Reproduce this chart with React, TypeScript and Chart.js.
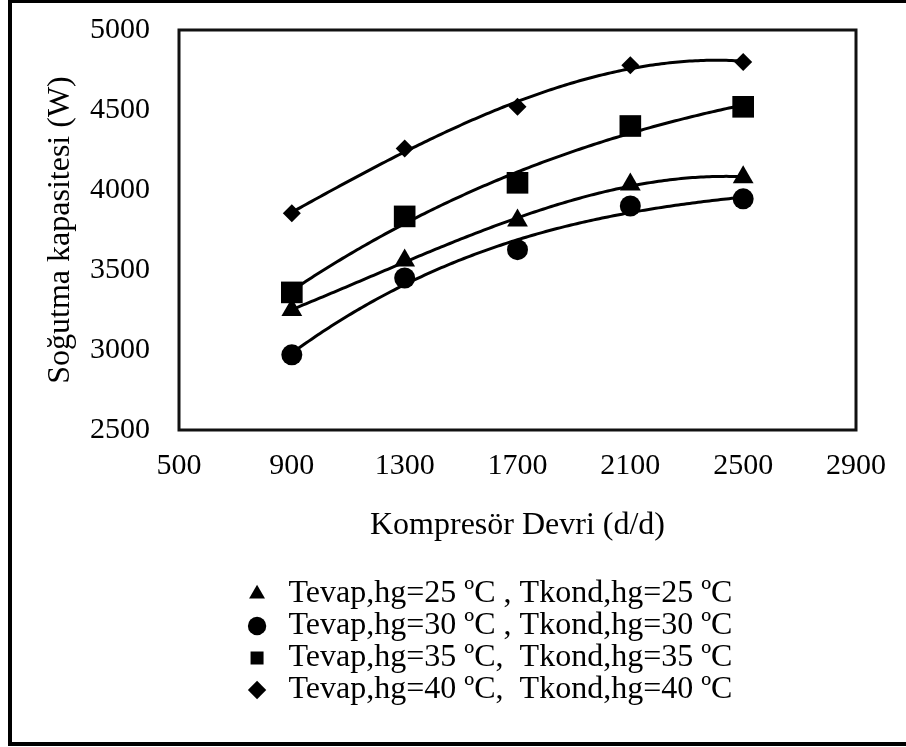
import React, { useEffect, useRef } from "react";
import { Chart, registerables } from "chart.js";

Chart.register(...registerables);

// ---- Data ----
const rpm = [900, 1300, 1700, 2100, 2500];
const cap25 = [3250, 3560, 3810, 4035, 4080];
const cap30 = [2970, 3450, 3627, 3900, 3945];
const cap35 = [3360, 3835, 4045, 4400, 4520];
const cap40 = [3855, 4260, 4520, 4780, 4800];

const seriesLabels = [
  "Tevap,hg=25 ºC , Tkond,hg=25 ºC",
  "Tevap,hg=30 ºC , Tkond,hg=30 ºC",
  "Tevap,hg=35 ºC,  Tkond,hg=35 ºC",
  "Tevap,hg=40 ºC,  Tkond,hg=40 ºC",
];
const seriesValues = [cap25, cap30, cap35, cap40];
const seriesMarkers = ["triangle", "circle", "rect", "rectRot"];
const markerRadius = [12, 10.5, 15.3, 9];

const xMin = 500;
const xMax = 2900;
const xStep = 400;
const yMin = 2500;
const yMax = 5000;
const yStep = 500;

const xTitle = "Kompresör Devri (d/d)";
const yTitle = "Soğutma kapasitesi (W)";

const FONT = "'Liberation Serif', 'Times New Roman', serif";

// least squares polynomial fit (Excel-style trendline)
function polyFit(xs: number[], ys: number[], deg: number) {
  const n = deg + 1;
  const c = xs.reduce((a, b) => a + b, 0) / xs.length;
  const s = (Math.max(...xs) - Math.min(...xs)) / 2 || 1;
  const A: number[][] = Array.from({ length: n }, () => new Array(n + 1).fill(0));
  xs.forEach((xv, k) => {
    const u = (xv - c) / s;
    for (let i = 0; i < n; i++) {
      for (let j = 0; j < n; j++) A[i][j] += Math.pow(u, i + j);
      A[i][n] += ys[k] * Math.pow(u, i);
    }
  });
  for (let i = 0; i < n; i++) {
    let p = i;
    for (let r = i + 1; r < n; r++) if (Math.abs(A[r][i]) > Math.abs(A[p][i])) p = r;
    [A[i], A[p]] = [A[p], A[i]];
    for (let r = 0; r < n; r++) {
      if (r === i) continue;
      const f = A[r][i] / A[i][i];
      for (let col = i; col <= n; col++) A[r][col] -= f * A[i][col];
    }
  }
  const coef = A.map((row, i) => row[n] / row[i]);
  return (xv: number) => {
    const u = (xv - c) / s;
    let v = 0;
    for (let i = 0; i < n; i++) v += coef[i] * Math.pow(u, i);
    return v;
  };
}

const trendPlugin = {
  id: "trendlines",
  beforeDatasetsDraw(chart: any) {
    const { ctx, chartArea } = chart;
    const xs = chart.scales.x;
    const ys = chart.scales.y;
    ctx.save();
    ctx.beginPath();
    ctx.rect(chartArea.left, chartArea.top, chartArea.right - chartArea.left, chartArea.bottom - chartArea.top);
    ctx.clip();
    ctx.strokeStyle = "#000";
    ctx.lineWidth = 3;
    ctx.lineJoin = "round";
    ctx.lineCap = "round";
    chart.data.datasets.forEach((ds: any) => {
      const px = ds.data.map((p: any) => p.x);
      const py = ds.data.map((p: any) => p.y);
      const f = polyFit(px, py, 3);
      const x0 = Math.min(...px);
      const x1 = Math.max(...px);
      ctx.beginPath();
      const N = 160;
      for (let i = 0; i <= N; i++) {
        const xv = x0 + ((x1 - x0) * i) / N;
        const X = xs.getPixelForValue(xv);
        const Y = ys.getPixelForValue(f(xv));
        if (i === 0) ctx.moveTo(X, Y);
        else ctx.lineTo(X, Y);
      }
      ctx.stroke();
    });
    ctx.restore();
  },
};

const framePlugin = {
  id: "plotFrame",
  afterDraw(chart: any) {
    const { ctx, chartArea } = chart;
    ctx.save();
    ctx.strokeStyle = "#111";
    ctx.lineWidth = 3;
    ctx.strokeRect(chartArea.left, chartArea.top, chartArea.right - chartArea.left, chartArea.bottom - chartArea.top);
    ctx.restore();
  },
};

export default function App() {
  const ref = useRef<HTMLCanvasElement | null>(null);

  useEffect(() => {
    if (!ref.current) return;
    const datasets = seriesLabels.map((label, i) => ({
      label,
      data: rpm.map((x, k) => ({ x, y: seriesValues[i][k] })),
      showLine: false,
      pointStyle: seriesMarkers[i] as any,
      pointRadius: markerRadius[i],
      pointHoverRadius: markerRadius[i],
      pointBackgroundColor: "#000",
      pointBorderColor: "#000",
      pointBorderWidth: 0,
      backgroundColor: "#000",
      borderColor: "#000",
      borderWidth: 0,
    }));

    const chart = new Chart(ref.current, {
      type: "scatter",
      data: { datasets },
      plugins: [trendPlugin, framePlugin],
      options: {
        responsive: false,
        animation: false,
        devicePixelRatio: 1,
        layout: { padding: { left: 68, right: 0, top: 30, bottom: 31 } },
        plugins: {
          tooltip: { enabled: false },
          title: { display: false },
          legend: {
            display: true,
            position: "bottom",
            align: "center",
            labels: {
              usePointStyle: true,
              boxWidth: 31,
              boxHeight: 13,
              padding: 0,
              color: "#000",
              font: { family: FONT, size: 32 },
            },
          },
        },
        scales: {
          x: {
            type: "linear",
            min: xMin,
            max: xMax,
            grid: { display: false, drawTicks: false },
            border: { display: false },
            afterFit: (s: any) => {
              s.height = 148;
            },
            ticks: {
              stepSize: xStep,
              padding: 18.5,
              color: "#000",
              font: { family: FONT, size: 30 },
              maxRotation: 0,
              callback: (v: any) => String(v),
            },
            title: {
              display: true,
              text: xTitle,
              color: "#000",
              font: { family: FONT, size: 32 },
              padding: { top: 0, bottom: 33 },
            },
          },
          y: {
            type: "linear",
            position: "left",
            min: yMin,
            max: yMax,
            grid: { display: false, drawTicks: false },
            border: { display: false },
            afterFit: (s: any) => {
              s.width = 111;
              s.paddingTop = 0;
              s.paddingBottom = 0;
            },
            ticks: {
              stepSize: yStep,
              padding: 29,
              color: "#000",
              font: { family: FONT, size: 30 },
              callback: (v: any) => String(v),
            },
            title: {
              display: true,
              text: yTitle,
              color: "#000",
              font: { family: FONT, size: 32 },
              padding: { top: -26.7, bottom: 0 },
            },
          },
          yRight: {
            type: "linear",
            position: "right",
            display: true,
            min: yMin,
            max: yMax,
            grid: { display: false, drawTicks: false },
            border: { display: false },
            ticks: { display: false },
            title: { display: false },
            afterFit: (s: any) => {
              s.width = 50;
              s.paddingTop = 0;
              s.paddingBottom = 0;
            },
          },
        },
      } as any,
    });
    return () => chart.destroy();
  }, []);

  return (
    <div
      style={{
        position: "absolute",
        left: 0,
        top: 0,
        width: 906,
        height: 747,
        overflow: "hidden",
        background: "#fff",
      }}
    >
      <canvas
        ref={ref}
        width={906}
        height={747}
        style={{ position: "absolute", left: 0, top: 0, width: 906, height: 747, display: "block" }}
      />
      <div
        style={{
          position: "absolute",
          left: 8,
          top: 0,
          width: 898,
          height: 746,
          boxSizing: "border-box",
          borderLeft: "4px solid #000",
          borderTop: "3px solid #000",
          borderBottom: "4px solid #000",
          pointerEvents: "none",
        }}
      />
    </div>
  );
}
